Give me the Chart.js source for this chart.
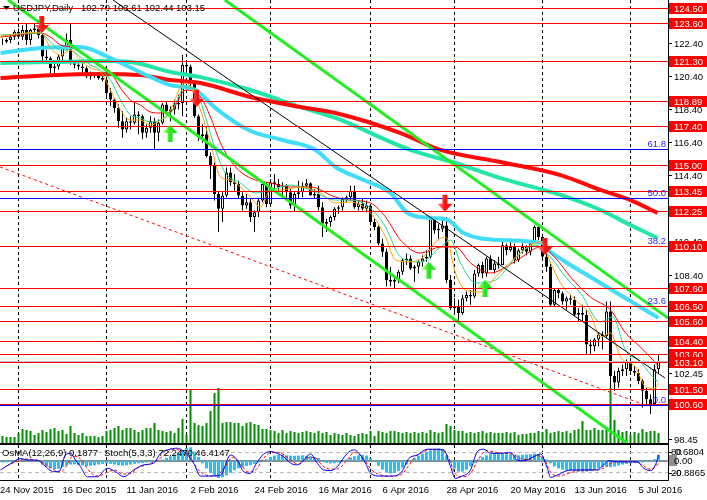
<!DOCTYPE html>
<html>
<head>
<meta charset="utf-8">
<script src="https://cdn.jsdelivr.net/npm/chart.js@4.4.1/dist/chart.umd.min.js"></script>
<style>
  html, body { margin: 0; padding: 0; background: #fff; }
  #wrap { position: relative; width: 707px; height: 500px; overflow: hidden; }
  canvas { position: absolute; left: 0; }
  #main { top: 0; }
  #ind { top: 443px; }
</style>
</head>
<body>
<div id="wrap">
  <canvas id="main" width="707" height="443"></canvas>
  <canvas id="ind" width="707" height="57"></canvas>
</div>
<script>
// USDJPY daily, bar 0 = 25 Nov 2015 ... bar 164 = 12 Jul 2016
const dateLabels = ['24 Nov 2015', '16 Dec 2015', '11 Jan 2016', '2 Feb 2016', '24 Feb 2016', '16 Mar 2016',
  '6 Apr 2016', '28 Apr 2016', '20 May 2016', '13 Jun 2016', '5 Jul 2016'];
const dateLabelIdx = [-1, 15, 31, 47, 63, 79, 95, 111, 127, 143, 159];
const monthSepIdx = [4, 26, 46, 67, 92, 113, 135, 157];

// [open, high, low, close]
const ohlc = [
  [122.50,122.70,122.30,122.50],[122.50,122.70,122.40,122.60],[122.60,122.90,122.40,122.80],[122.80,123.20,122.60,123.10],
  [123.10,123.30,122.70,122.80],[122.80,123.50,122.60,123.20],[123.20,123.60,122.30,122.60],[122.60,123.30,122.30,123.20],
  [123.20,123.60,123.00,123.30],[123.30,123.50,122.70,122.90],[122.90,123.00,121.20,121.60],[121.60,122.00,121.30,121.50],
  [121.50,121.60,120.60,120.90],[120.90,121.30,120.40,121.00],[121.00,121.70,120.80,121.60],[121.60,122.30,121.40,122.20],
  [122.20,123.00,122.00,122.60],[122.60,123.60,121.10,121.20],[121.20,121.40,120.90,121.10],[121.10,121.20,120.80,121.00],
  [121.00,121.20,120.60,120.90],[120.90,121.00,120.30,120.40],[120.40,120.70,120.20,120.45],[120.45,120.60,120.30,120.55],
  [120.55,120.60,120.20,120.30],[120.30,120.50,120.10,120.20],
  [120.20,120.40,119.10,119.40],[119.40,119.70,118.60,119.00],[119.00,119.10,118.20,118.50],[118.50,118.70,117.30,117.70],
  [117.70,118.30,116.70,117.20],[117.20,117.90,117.00,117.70],[117.70,118.00,117.20,117.60],[117.60,118.80,117.50,118.10],
  [118.10,118.30,116.90,118.00],[118.00,118.10,116.60,117.00],[117.00,117.50,116.70,117.30],[117.30,118.00,117.00,117.70],
  [117.70,117.90,116.00,117.00],[117.00,117.80,116.50,117.60],[117.60,118.80,117.50,118.70],[118.70,118.90,118.10,118.30],
  [118.30,118.60,117.70,118.40],[118.40,119.00,118.10,118.70],[118.70,119.30,118.40,118.80],[118.80,121.70,118.00,121.10],
  [121.10,121.40,120.60,121.00],[121.00,121.10,119.60,120.00],[120.00,120.10,117.90,118.00],[118.00,118.10,116.50,116.80],
  [116.80,117.50,116.40,116.90],[116.90,117.40,115.50,115.60],[115.60,115.80,114.20,115.00],[115.00,115.20,112.90,113.30],
  [113.30,113.50,111.00,112.40],[112.40,113.40,111.60,113.20],[113.20,114.90,113.10,114.60],[114.60,114.90,113.80,114.00],
  [114.00,114.50,113.50,113.90],[113.90,114.10,113.00,113.20],[113.20,113.40,112.30,112.60],[112.60,113.30,112.40,112.80],
  [112.80,113.00,111.60,111.90],[111.90,112.30,111.00,112.20],[112.20,113.00,111.90,112.90],[112.90,114.00,112.80,113.90],
  [113.90,114.00,112.50,112.70],
  [112.70,114.20,112.60,114.00],[114.00,114.50,113.40,113.90],[113.90,114.20,113.40,113.70],[113.70,114.00,113.00,113.80],
  [113.80,113.90,112.90,113.40],[113.40,113.60,112.40,112.60],[112.60,113.40,112.20,113.30],[113.30,114.10,113.00,113.40],
  [113.40,114.00,113.10,113.80],[113.80,114.20,113.60,113.95],[113.95,114.00,113.20,113.20],[113.20,113.60,113.00,113.30],
  [113.30,113.80,112.30,112.50],[112.50,112.80,110.70,111.50],[111.50,111.80,111.00,111.60],[111.60,112.00,111.30,111.90],
  [111.90,112.50,111.70,112.40],[112.40,112.60,112.10,112.50],[112.50,113.10,112.30,113.00],[113.00,113.20,112.80,113.10],
  [113.10,113.80,112.90,113.50],[113.50,113.80,112.40,112.50],[112.50,112.90,112.30,112.70],[112.70,113.00,112.30,112.40],
  [112.40,112.90,112.20,112.60],
  [112.60,112.70,111.40,111.60],[111.60,111.80,111.10,111.30],[111.30,111.40,110.20,110.30],[110.30,110.60,109.50,109.80],
  [109.80,110.00,107.70,108.10],[108.10,108.90,107.70,108.00],[108.00,108.30,107.60,108.10],[108.10,108.70,107.90,108.60],
  [108.60,109.40,108.40,109.30],[109.30,109.70,109.00,109.40],[109.40,109.60,108.70,108.80],[108.80,109.00,108.00,108.90],
  [108.90,109.30,108.50,109.20],[109.20,109.60,108.90,109.40],[109.40,109.90,109.20,109.50],[109.50,111.90,109.40,111.80],
  [111.80,111.90,110.90,111.10],[111.10,111.50,110.60,111.20],[111.20,111.90,111.00,111.40],[111.40,111.90,107.90,108.10],
  [108.10,108.40,106.30,106.40],
  [106.40,107.00,106.10,106.50],[106.50,106.90,105.60,106.10],[106.10,107.20,106.00,107.00],[107.00,107.40,106.80,107.20],
  [107.20,107.50,106.60,107.10],[107.10,108.70,107.00,108.50],[108.50,109.10,108.30,109.00],[109.00,109.20,108.20,108.50],
  [108.50,109.50,108.30,109.40],[109.40,109.60,108.70,108.70],[108.70,109.30,108.50,109.10],[109.10,109.50,108.80,109.00],
  [109.00,110.40,109.00,110.20],[110.20,110.30,109.60,109.90],[109.90,110.60,109.80,110.10],[110.10,110.30,109.10,109.30],
  [109.30,110.00,109.20,109.90],[109.90,110.30,109.70,110.10],[110.10,110.20,109.60,109.80],[109.80,110.50,109.60,110.30],
  [110.30,111.40,110.30,111.30],[111.30,111.40,110.50,110.70],
  [110.70,110.80,109.30,109.50],[109.50,109.70,108.60,108.90],[108.90,109.10,106.50,106.60],[106.60,107.60,106.50,107.50],
  [107.50,107.60,107.00,107.30],[107.30,107.40,106.60,106.80],[106.80,107.10,106.30,107.00],[107.00,107.20,106.60,106.90],
  [106.90,107.10,105.90,106.00],[106.00,106.40,105.60,106.10],[106.10,106.60,105.60,106.00],[106.00,106.30,103.60,104.20],
  [104.20,104.50,103.60,104.10],[104.10,104.60,103.80,104.50],[104.50,104.90,104.10,104.80],[104.80,105.00,103.90,104.70],
  [104.70,106.80,104.60,106.20],[106.20,106.80,99.00,102.30],[102.30,102.60,101.40,101.90],[101.90,102.80,101.60,102.60],
  [102.60,103.00,102.30,102.70],[102.70,103.30,102.30,103.20],
  [103.20,103.40,102.40,102.60],[102.60,102.90,102.30,102.50],[102.50,102.70,101.80,102.00],[102.00,102.10,100.40,101.40],
  [101.40,101.60,100.60,100.90],[100.90,101.20,100.00,100.60],[100.60,103.00,100.60,102.70],[102.70,103.61,102.44,103.15]
];

const volumes = [
  7,6,6,6, 10,14,13,12, 8,10,13,11, 14,15,12,13,9, 17,10,8,10,7, 7,7,6,7,
  12,13,15,17,13,15, 15,13,11,13,15,15, 20,13,12,11,12,10,15, 24,8,53,
  20,18,17,20, 32,50,55,20, 21,21,20,20,17,20,21,19,18,14,14,
  13,12,10,13,10,12,11,10,11,12,11, 10,12,10,11,8,10,9,8,10,8,
  7,9,10,9,12,7,12,11,10,12,12,11, 10,11,10,11,10,11,10,13,11,10,
  11,19,17,13,12,12,10,11,10,11, 12,10,11,10,10,10,11,10,11,8,
  9,9,10,10,12,11,14,10,11,12, 11,12,10,13,14,22,13,13,15,13,
  13,14,55,23,13,11,12,8,11,10, 14,11,12,12,10
];

// moving averages, [bar, price]
const maOrange = [[-0.5,122.84],[9.5,123.08],[12,122.12],[14.5,121.69],[17,122.0],[19.5,121.39],[22,120.91],[24.5,120.67],
  [27,119.58],[29.5,118.37],[32,117.77],[34.5,117.77],[37,117.46],[39.5,117.77],[42,118.37],[44.5,119.76],[45.75,120.0],
  [47.5,119.58],[49.5,118.37],[52,116.38],[54.5,114.32],[57,114.14],[59.5,113.72],[62,113.11],[64.5,112.51],[67,113.54],
  [69.5,113.54],[74.5,113.72],[79.5,113.36],[83.25,112.75],[87,112.81],[92,112.15],[95.75,110.70],[98.25,109.31],
  [102,109.19],[105.75,109.61],[108.25,110.39],[110.75,110.70],[113.25,108.52],[115.75,107.49],[119.5,107.37],
  [123.25,108.28],[127,109.19],[132,110.21],[134.5,110.39],[137,109.13],[139.5,107.92],[143.25,106.89],[147,105.99],
  [149.5,104.66],[152,104.90],[154.5,103.45],[158.25,102.84],[160.75,101.64],[163,101.55],[164,101.85]];
const maGreen = [[-0.5,122.90],[9.5,123.02],[12,122.48],[14.5,122.0],[17,122.0],[19.5,121.57],[22,121.09],[24.5,120.79],
  [27,120.18],[29.5,118.97],[32,118.07],[34.5,117.89],[37,117.64],[39.5,117.77],[42,118.19],[45.75,119.76],[48.25,119.58],
  [50.75,117.95],[53.25,115.96],[55.75,114.56],[59.5,113.96],[63.25,113.36],[67,113.54],[72,113.84],[77,113.54],
  [83.25,112.93],[87,112.93],[92,112.45],[95.75,111.30],[99.5,109.49],[104.5,109.19],[109.5,110.09],[112,110.51],
  [114.5,109.13],[118.25,107.92],[123.25,108.10],[128.25,109.43],[133.25,110.21],[137,109.49],[140.75,108.28],
  [144.5,107.31],[149.5,105.56],[152.5,105.87],[155.75,103.87],[159.5,103.14],[163.25,102.06],[164,101.95]];
const maRedThin = [[-0.5,122.78],[9.5,123.02],[12,122.78],[14.5,122.30],[17,122.18],[19.5,121.87],[22,121.51],[24.5,121.09],
  [27,120.67],[29.5,119.70],[32,118.97],[34.5,118.67],[37,118.25],[39.5,118.19],[42,118.25],[45.75,119.58],[49.5,119.16],
  [52,117.95],[54.5,116.38],[58.25,114.93],[62,114.26],[67,113.96],[72,113.72],[77,113.72],[83.25,113.11],[87,112.93],
  [92,112.75],[95.75,111.91],[99.5,110.51],[104.5,109.73],[109.5,110.09],[113.25,110.09],[117,109.13],[122,108.52],
  [124.5,108.70],[129.5,109.43],[134.5,110.09],[138.25,109.43],[142,108.28],[147,107.07],[152,106.29],[155.75,104.90],
  [159.5,104.05],[164,102.90]];
const maCyan = [[-0.5,121.81],[9.5,122.12],[19.5,122.18],[27,121.51],[37,120.36],[42,119.88],[48.25,119.58],[53.25,118.49],
  [61.5,117.16],[70,116.56],[78.25,115.96],[83.25,114.93],[90.25,114.14],[97,113.36],[101.25,112.15],[107,111.85],
  [111.25,111.73],[115.25,110.94],[124.5,110.51],[135,110.33],[136.5,109.91],[140,109.31],[148.25,108.10],
  [156.5,106.89],[164,105.81]];
const maAqua = [[-0.5,121.21],[12,121.27],[24.5,121.33],[32,121.27],[42,120.67],[49.5,120.36],[62,119.58],[74.5,118.55],
  [83.25,117.89],[102,115.96],[113.25,115.17],[124.5,114.26],[139.5,113.24],[149.5,112.33],[157,111.42],[163.75,110.64]];
const maRedThick = [[-0.5,120.30],[12,120.48],[24.5,120.55],[34.5,120.48],[42,120.18],[49.5,120.0],[62,119.16],[74.5,118.55],
  [83.25,118.19],[99.5,116.98],[109.5,115.96],[124.5,115.23],[139.5,114.44],[149.5,113.54],[157,112.93],[163.75,112.15]];

// trend lines, [bar, price]
const chanLower = [[1.4,125.02],[156.1,98.25]];
const chanUpper = [[55.6,125.02],[166.4,105.80]];
const chanMid = [[27.6,125.02],[165.6,102.18]];
const dashTrend = [[-0.6,114.93],[160,100.60]];

const redLevels = [124.50, 123.60, 121.30, 118.89, 117.40, 115.00, 113.45, 112.25, 110.10, 107.60, 106.50,
  105.60, 104.40, 103.60, 103.10, 101.50, 100.60];
const fibLevels = [100.52, 106.47, 110.10, 113.03, 115.97];
const fibNames = ['0.0', '23.6', '38.2', '50.0', '61.8'];
const priceTicks = [124.40, 122.40, 120.40, 118.40, 116.40, 114.40, 112.40, 110.40, 108.40, 106.40, 104.40,
  102.45, 100.45, 98.45];
const bidPrice = 103.15;
const arrowsDown = [[9.8,123.02],[48.5,118.57],[110.6,112.22],[135.6,109.61]];
const arrowsUp = [[41.9,117.46],[106.6,109.20],[120.6,108.10]];

// OsMA(12,26,9) and Stoch(5,3,3)
const osma = [
  -0.15,-0.12,-0.08,-0.03, 0.05,0.12,0.15,0.12, 0.05,-0.1,-0.3,-0.45, -0.6,-0.65,-0.62,-0.5,-0.38,
  -0.3,-0.28,-0.32, -0.38,-0.42,-0.4,-0.36, -0.3,-0.25,-0.22,-0.25,-0.3, -0.35,-0.38,-0.36,-0.3,-0.25,-0.2,
  -0.18,-0.15,-0.12,-0.08,0.0, 0.1,0.22,0.35,0.48,0.6,0.8,1.0,1.05,
  0.7,0.3,-0.2,-0.6,-0.95,-1.2,-1.35,-1.3,-1.15,-0.95,-0.75, -0.6,-0.5,-0.42,-0.35,-0.25,-0.15,-0.05,0.1,
  0.3,0.4,0.45,0.45,0.42,0.4,0.38,0.4,0.42,0.4,0.35,0.3,0.2,
  -0.1,-0.18,-0.22,-0.2,-0.15,-0.05,0.1,0.25,0.35,0.42,0.45,0.4,
  0.2,-0.1,-0.4,-0.7,-0.9,-1.0,-0.95,-0.8,-0.55,-0.3, 0.0,0.2,0.4,0.55,0.7,0.8,0.9,0.95,0.9,
  0.4,-0.2,-0.6,-0.85,-0.85,-0.7,-0.45,
  -0.15,0.1,0.3,0.42,0.5,0.55,0.55,0.55,0.5,0.5,0.45,0.42,0.45,0.48,0.5,0.55,0.5,0.35,
  0.1,-0.2,-0.45,-0.6,-0.7,-0.75,-0.8,-0.82,-0.85,-0.86,-0.85,-0.8,-0.7,-0.6,-0.5,-0.45,-0.5,
  -0.45,-0.38,-0.3,-0.25,-0.2,-0.18,-0.18, -0.15,-0.1,-0.05,0.12,0.45
];
const stochMain = [[-0.5,28],[2.8,52],[4.5,62],[6.2,57],[8.7,57],[10.3,43],[12.8,23],[14.1,23],[15.75,72],[17,77],
  [18.25,57],[19.5,38],[21.2,8],[23.7,8],[26.2,33],[28.25,23],[30.3,8],[32.8,28],[35.3,43],[37.8,48],[39.5,77],
  [41.2,87],[43.7,92],[46.2,72],[47.8,48],[49.5,10],[52,10],[54.5,13],[57,72],[58.7,57],[60.3,23],[62,18],
  [63.25,43],[65.3,75],[67,82],[68.7,77],[70.3,67],[72,48],[73.7,43],[75.3,57],[77,75],[78.7,48],[80.3,28],
  [82,26],[83.7,38],[86.2,77],[87.8,87],[88.7,82],[90.75,48],[92,18],[94.5,10],[97,10],[99.5,18],[101.6,62],
  [103.7,72],[106.2,89],[108.7,89],[110.3,87],[112,38],[113.25,3],[114.5,8],[117,28],[118.7,82],[120.3,89],
  [122,77],[124.5,77],[127,79],[128.7,57],[130.3,55],[132.8,67],[134.5,75],[136.2,33],[137,6],[138.7,13],
  [142,28],[145.3,28],[148.7,28],[150.3,43],[151.6,55],[153.7,52],[156.2,52],[158.7,52],[160.3,33],[162,26],
  [163.25,43],[164,72.25]];
const stochSignal = [[1,40],[4,55],[6,60],[8,58],[10,50],[12,35],[14.5,22],[16,40],[17.5,68],[19,65],[20.5,45],
  [22,20],[24,10],[26,20],[28,28],[30,16],[32,18],[34,35],[36.5,45],[38.5,55],[40.5,72],[42.5,88],[45,85],
  [47,65],[48.5,35],[50.5,15],[53,10],[55.5,35],[57.5,65],[59.5,45],[61.5,22],[63.5,30],[65,58],[66.5,76],
  [68.5,80],[70.5,72],[72,58],[74,45],[76,62],[78,65],[80,40],[82,30],[84,32],[86,55],[88,80],[90,65],[92,32],
  [94,15],[97,10],[99.5,13],[101.5,40],[103,65],[105,80],[107,88],[109.5,88],[111.5,65],[113,20],[115,8],
  [117,18],[119,60],[121,85],[123,80],[125,77],[127.5,75],[129.5,62],[131.5,58],[133.5,70],[135.5,58],[137,22],
  [139,10],[142,20],[145.5,28],[149,28],[151,38],[153,52],[155,52],[158,52],[160,42],[162,30],[164,46.41]];

const FONT = '9.5px "Liberation Sans", Arial, sans-serif';
const xAxis = { type: 'linear', min: -0.625, max: 166.375, offset: false, display: false };
const pts = arr => arr.map(([x, y]) => ({ x, y }));

function hline(ctx, a, yy, color) {
  const v = Math.floor(yy) + 0.5;
  ctx.beginPath();
  ctx.strokeStyle = color;
  ctx.lineWidth = 1;
  ctx.setLineDash([]);
  ctx.moveTo(a.left, v);
  ctx.lineTo(a.right, v);
  ctx.stroke();
}

function separators(chart) {
  const { ctx, chartArea: a, scales: { x } } = chart;
  ctx.save();
  ctx.strokeStyle = '#000';
  ctx.lineWidth = 1;
  ctx.setLineDash([3, 3]);
  monthSepIdx.forEach(i => {
    const px = Math.floor(x.getPixelForValue(i)) + 0.5;
    ctx.beginPath();
    ctx.moveTo(px, a.top);
    ctx.lineTo(px, a.bottom);
    ctx.stroke();
  });
  ctx.restore();
}

function drawArrow(ctx, cx, tipY, dir, dark, light) {
  const s = dir;
  const g = ctx.createLinearGradient(cx - 7, 0, cx + 7, 0);
  g.addColorStop(0, light);
  g.addColorStop(0.5, dark);
  g.addColorStop(1, dark);
  ctx.beginPath();
  ctx.moveTo(cx, tipY);
  ctx.lineTo(cx - 7.5, tipY - s * 8);
  ctx.lineTo(cx - 2.5, tipY - s * 8);
  ctx.lineTo(cx - 2.5, tipY - s * 17);
  ctx.lineTo(cx + 2.5, tipY - s * 17);
  ctx.lineTo(cx + 2.5, tipY - s * 8);
  ctx.lineTo(cx + 7.5, tipY - s * 8);
  ctx.closePath();
  ctx.fillStyle = g;
  ctx.fill();
}

const mainOverlay = {
  id: 'mainOverlay',
  beforeDatasetsDraw(chart) {
    separators(chart);
  },
  afterDatasetsDraw(chart) {
    const { ctx, chartArea: a, scales: { x, y } } = chart;
    ctx.save();
    hline(ctx, a, y.getPixelForValue(bidPrice), '#c0c0c0');
    fibLevels.forEach(v => hline(ctx, a, y.getPixelForValue(v), '#0000ff'));
    redLevels.forEach(v => hline(ctx, a, y.getPixelForValue(v), '#ff0000'));
    ctx.font = FONT;
    ctx.fillStyle = '#2a2aff';
    ctx.textAlign = 'right';
    ctx.textBaseline = 'alphabetic';
    fibLevels.forEach((v, k) => ctx.fillText(fibNames[k], a.right - 2, Math.floor(y.getPixelForValue(v)) - 2));
    arrowsDown.forEach(([i, p]) => drawArrow(ctx, x.getPixelForValue(i), y.getPixelForValue(p), 1, '#ff1010', '#ff9090'));
    arrowsUp.forEach(([i, p]) => drawArrow(ctx, x.getPixelForValue(i), y.getPixelForValue(p), -1, '#22e622', '#c8ff60'));
    ctx.restore();
  },
  afterDraw(chart) {
    const { ctx, chartArea: a, scales: { y } } = chart;
    ctx.save();
    ctx.fillStyle = '#000';
    ctx.fillRect(a.right, 0, 1, chart.height);
    ctx.font = FONT;
    ctx.textAlign = 'left';
    ctx.textBaseline = 'middle';
    priceTicks.forEach(v => {
      const py = Math.floor(y.getPixelForValue(v));
      ctx.fillStyle = '#000';
      ctx.fillRect(a.right, py, 4, 1);
      ctx.fillText(v.toFixed(2), a.right + 6, py + 1);
    });
    redLevels.forEach(v => {
      const py = Math.floor(y.getPixelForValue(v));
      ctx.fillStyle = '#ff0000';
      ctx.fillRect(a.right + 1, py - 5, 39, 11);
      ctx.fillStyle = '#fff';
      ctx.fillText(v.toFixed(2), a.right + 6, py + 1);
    });
    // header
    ctx.fillStyle = '#000';
    ctx.beginPath();
    ctx.moveTo(3, 6); ctx.lineTo(10, 6); ctx.lineTo(6.5, 10); ctx.closePath();
    ctx.fill();
    ctx.fillText('USDJPY,Daily', 13, 8.5);
    ctx.fillText('102.70 103.61 102.44 103.15', 81, 8.5);
    ctx.restore();
  }
};

new Chart(document.getElementById('main'), {
  type: 'bar',
  data: {
    datasets: [
      { type: 'line', data: pts(chanLower), borderColor: '#22ee22', borderWidth: 3, pointRadius: 0, order: 1 },
      { type: 'line', data: pts(chanUpper), borderColor: '#22ee22', borderWidth: 3, pointRadius: 0, order: 1 },
      { type: 'line', data: pts(chanMid), borderColor: '#000', borderWidth: 1, pointRadius: 0, order: 1 },
      { type: 'line', data: pts(dashTrend), borderColor: '#ff0000', borderWidth: 1, borderDash: [3, 3], pointRadius: 0, order: 1 },
      { type: 'line', data: pts(maOrange), borderColor: '#ffa000', borderWidth: 1, pointRadius: 0, cubicInterpolationMode: 'monotone', order: 2 },
      { type: 'line', data: pts(maGreen), borderColor: '#20d890', borderWidth: 1, pointRadius: 0, cubicInterpolationMode: 'monotone', order: 3 },
      { type: 'line', data: pts(maRedThin), borderColor: '#ff0000', borderWidth: 1, pointRadius: 0, cubicInterpolationMode: 'monotone', order: 4 },
      { type: 'line', data: pts(maCyan), borderColor: '#40ddf8', borderWidth: 4, pointRadius: 0, cubicInterpolationMode: 'monotone', order: 5 },
      { type: 'line', data: pts(maRedThick), borderColor: '#ff0a0a', borderWidth: 4, pointRadius: 0, cubicInterpolationMode: 'monotone', order: 6 },
      { type: 'line', data: pts(maAqua), borderColor: '#22e6a8', borderWidth: 4, pointRadius: 0, cubicInterpolationMode: 'monotone', order: 7 },
      { data: volumes.map((v, i) => ({ x: i, y: v })), yAxisID: 'vol', backgroundColor: '#008a00',
        barThickness: 2, grouped: false, inflateAmount: 0, order: 8 },
      { data: ohlc.map((c, i) => ({ x: i, y: [c[0], c[3]] })), yAxisID: 'y',
        backgroundColor: ctx => { const c = ohlc[ctx.dataIndex]; return c && c[3] >= c[0] ? '#fff' : '#000'; },
        borderColor: '#000', borderWidth: 1, borderSkipped: false, barThickness: 3, grouped: false, inflateAmount: 0, order: 9 },
      { data: ohlc.map((c, i) => ({ x: i, y: [c[2], c[1]] })), yAxisID: 'y', backgroundColor: '#000',
        barThickness: 1, grouped: false, inflateAmount: 0, order: 10 }
    ]
  },
  options: {
    responsive: false,
    animation: false,
    devicePixelRatio: 1,
    events: [],
    layout: { padding: { left: 0, right: 39, top: 0, bottom: 0 } },
    plugins: { legend: { display: false }, tooltip: { enabled: false } },
    scales: {
      x: xAxis,
      y: { type: 'linear', min: 98.25, max: 125.02, display: false },
      vol: { type: 'linear', min: 0, max: 443, display: false }
    }
  },
  plugins: [mainOverlay]
});

const indOverlay = {
  id: 'indOverlay',
  beforeDatasetsDraw(chart) {
    const { ctx, chartArea: a, scales: { st, osma: om } } = chart;
    separators(chart);
    ctx.save();
    ctx.strokeStyle = '#b8b8b8';
    ctx.lineWidth = 1;
    ctx.setLineDash([4, 3]);
    [80, 20].forEach(v => {
      const py = Math.floor(st.getPixelForValue(v)) + 0.5;
      ctx.beginPath(); ctx.moveTo(a.left, py); ctx.lineTo(a.right, py); ctx.stroke();
    });
    ctx.fillStyle = '#8c8c8c';
    ctx.fillRect(a.left, Math.round(om.getPixelForValue(0)) - 1, a.right - a.left, 2);
    ctx.restore();
  },
  afterDraw(chart) {
    const { ctx, chartArea: a, scales: { x } } = chart;
    ctx.save();
    ctx.fillStyle = '#000';
    ctx.fillRect(0, 0, a.right + 1, 2);
    ctx.fillRect(0, a.bottom, a.right + 1, 1);
    ctx.fillRect(a.right, 0, 1, a.bottom + 1);
    ctx.font = FONT;
    ctx.textBaseline = 'middle';
    ctx.textAlign = 'left';
    ctx.fillText('OsMA(12,26,9) 0.1877', 2, 10);
    ctx.fillText('Stoch(5,3,3) 72.2470 46.4147', 104, 10);
    // right labels
    [9, 17, 30].forEach(py => ctx.fillRect(a.right, py, 4, 1));
    ctx.fillText('80', a.right + 3, 9.5);
    ctx.fillText('0.6804', a.right + 7, 9.5);
    ctx.fillStyle = '#909090';
    ctx.fillRect(a.right + 1, 12, 8, 11);
    ctx.fillStyle = '#000';
    ctx.fillText('0.00', a.right + 6, 18);
    ctx.fillText('20', a.right + 3, 30.5);
    ctx.fillText('-0.8865', a.right + 5, 30.5);
    // dates
    ctx.textBaseline = 'alphabetic';
    dateLabels.forEach((t, k) => ctx.fillText(t, Math.max(0, x.getPixelForValue(dateLabelIdx[k])), 50));
    ctx.restore();
  }
};

new Chart(document.getElementById('ind'), {
  type: 'bar',
  data: {
    datasets: [
      { type: 'line', data: pts(stochMain), yAxisID: 'st', borderColor: '#0000ff', borderWidth: 1, pointRadius: 0,
        cubicInterpolationMode: 'monotone', order: 1 },
      { type: 'line', data: pts(stochSignal), yAxisID: 'st', borderColor: '#ff0000', borderWidth: 1, borderDash: [3, 2],
        pointRadius: 0, cubicInterpolationMode: 'monotone', order: 2 },
      { data: osma.map((v, i) => ({ x: i, y: v })), yAxisID: 'osma', backgroundColor: '#22c2f2',
        barThickness: 3, grouped: false, inflateAmount: 0, order: 3 }
    ]
  },
  options: {
    responsive: false,
    animation: false,
    devicePixelRatio: 1,
    events: [],
    layout: { padding: { left: 0, right: 39, top: 2, bottom: 20 } },
    plugins: { legend: { display: false }, tooltip: { enabled: false } },
    scales: {
      x: xAxis,
      st: { type: 'linear', min: -1.5, max: 101.4, display: false },
      osma: { type: 'linear', min: -1.508, max: 1.227, display: false }
    }
  },
  plugins: [indOverlay]
});
</script>
</body>
</html>
